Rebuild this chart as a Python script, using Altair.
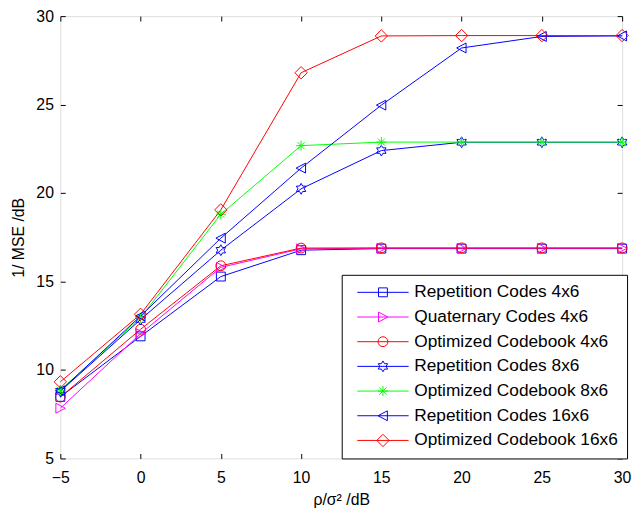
import altair as alt
import pandas as pd

snr = [-5, 0, 5, 10, 15, 20, 25, 30]
series = [
    "Repetition Codes 4x6",
    "Quaternary Codes 4x6",
    "Optimized Codebook 4x6",
    "Repetition Codes 8x6",
    "Optimized Codebook 8x6",
    "Repetition Codes 16x6",
    "Optimized Codebook 16x6",
]
rep_4x6 = [8.48, 11.90, 15.28, 16.77, 16.86, 16.86, 16.86, 16.86]
quat_4x6 = [7.84, 12.05, 15.80, 16.85, 16.88, 16.88, 16.88, 16.88]
opt_4x6 = [8.47, 12.30, 15.89, 16.89, 16.90, 16.90, 16.90, 16.90]
rep_8x6 = [8.80, 12.85, 16.77, 20.24, 22.40, 22.87, 22.87, 22.87]
opt_8x6 = [8.86, 12.95, 18.80, 22.68, 22.88, 22.88, 22.88, 22.88]
rep_16x6 = [8.82, 13.05, 17.45, 21.41, 24.97, 28.20, 28.85, 28.88]
opt_16x6 = [9.33, 13.15, 19.05, 26.80, 28.88, 28.90, 28.90, 28.90]
values = [rep_4x6, quat_4x6, opt_4x6, rep_8x6, opt_8x6, rep_16x6, opt_16x6]

colors = ["#0000ff", "#ff00ff", "#ff0000", "#0000ff", "#00ff00", "#0000ff", "#ff0000"]

x_ticks = [-5, 0, 5, 10, 15, 20, 25, 30]
y_ticks = [5, 10, 15, 20, 25, 30]

# marker outlines (unit coordinates)
square = "M-0.9,-0.9L0.9,-0.9L0.9,0.9L-0.9,0.9Z"
tri_right = "M-0.9,-1L1,0L-0.9,1Z"
circle = "M1,0A1,1 0 1,1 -1,0A1,1 0 1,1 1,0Z"
hexagram = ("M0,-1.1L0.318,-0.55L0.953,-0.55L0.635,0L0.953,0.55L0.318,0.55"
            "L0,1.1L-0.318,0.55L-0.953,0.55L-0.635,0L-0.953,-0.55L-0.318,-0.55Z")
asterisk = "M-1,0L1,0M0,-1L0,1M-0.72,-0.72L0.72,0.72M-0.72,0.72L0.72,-0.72"
tri_left = "M0.9,-1L-1,0L0.9,1Z"
diamond = "M0,-1.25L1.25,0L0,1.25L-1.25,0Z"
shapes = [square, tri_right, circle, hexagram, asterisk, tri_left, diamond]
legend_line = "M-5.2,0L5.2,0"
legend_shapes = [legend_line + s for s in shapes]

rows = []
for name, vals in zip(series, values):
    for xv, yv in zip(snr, vals):
        rows.append({"snr": xv, "mse": yv, "series": name})
df = pd.DataFrame(rows)

FONT = "Liberation Sans"
FS = 16

x_scale = alt.Scale(domain=[-5, 30], nice=False, zero=False)
y_scale = alt.Scale(domain=[5, 30], nice=False, zero=False)


def tick_axis(orient, vals):
    return alt.Axis(orient=orient, values=vals, labels=False, domain=False,
                    ticks=True, tickSize=5, tickWidth=1, tickColor="black",
                    offset=-5, title=None, grid=False)


x_main = alt.Axis(orient="bottom", values=x_ticks, labelFont=FONT, labelFontSize=FS,
                  labelColor="black", ticks=False, tickSize=0, domain=False, grid=False,
                  labelPadding=11, labelFlush=False, labelOverlap=False,
                  title="ρ/σ² /dB", titleFont=FONT, titleFontSize=FS,
                  titleFontWeight="normal", titleColor="black", titlePadding=7)
y_main = alt.Axis(orient="left", values=y_ticks, labelFont=FONT, labelFontSize=FS,
                  labelColor="black", ticks=False, tickSize=0, domain=False, grid=False,
                  labelPadding=7, labelFlush=False, labelOverlap=False,
                  title="1/ MSE /dB", titleFont=FONT, titleFontSize=FS,
                  titleFontWeight="normal", titleColor="black", titlePadding=10)

color_scale = alt.Scale(domain=series, range=colors)
shape_scale = alt.Scale(domain=series, range=shapes)
legend_shape_scale = alt.Scale(domain=series, range=legend_shapes)

lines = alt.Chart(df).mark_line(strokeWidth=1).encode(
    x=alt.X("snr:Q", scale=x_scale, axis=x_main),
    y=alt.Y("mse:Q", scale=y_scale, axis=y_main),
    color=alt.Color("series:N", scale=color_scale, legend=None),
    detail="series:N",
)

points = alt.Chart(df).mark_point(filled=False, size=100, strokeWidth=1, opacity=1).encode(
    x=alt.X("snr:Q", scale=x_scale, axis=tick_axis("bottom", x_ticks)),
    y=alt.Y("mse:Q", scale=y_scale, axis=tick_axis("left", y_ticks)),
    color=alt.Color("series:N", scale=color_scale, legend=None),
    shape=alt.Shape("series:N", scale=shape_scale, legend=None),
)

legend = alt.Legend(
    orient="none", legendX=285, legendY=262, title=None,
    labelFont=FONT, labelFontSize=17.5, labelColor="black", labelLimit=0,
    symbolSize=100, symbolStrokeWidth=1, symbolOffset=24, labelOffset=23,
    rowPadding=6, padding=9, strokeColor="black", fillColor="white",
    cornerRadius=0,
)

legend_layer = alt.Chart(df).transform_filter("false").mark_point(
    filled=False, size=100, strokeWidth=1, opacity=1
).encode(
    x=alt.X("snr:Q", scale=x_scale, axis=tick_axis("top", x_ticks)),
    y=alt.Y("mse:Q", scale=y_scale, axis=tick_axis("right", y_ticks)),
    color=alt.Color("series:N", scale=color_scale, legend=legend),
    shape=alt.Shape("series:N", scale=legend_shape_scale, legend=legend),
)

chart = alt.layer(lines, points, legend_layer).resolve_scale(
    color="independent", shape="independent"
).resolve_axis(
    x="independent", y="independent"
).properties(
    width=569, height=448,
    autosize=alt.AutoSizeParams(type="none"),
    padding={"left": 53, "top": 5, "right": 10, "bottom": 50},
).configure_view(
    stroke="black", strokeWidth=1
).configure(background="white")

chart.save("out.html", embed_options={"renderer": "svg", "actions": False})
